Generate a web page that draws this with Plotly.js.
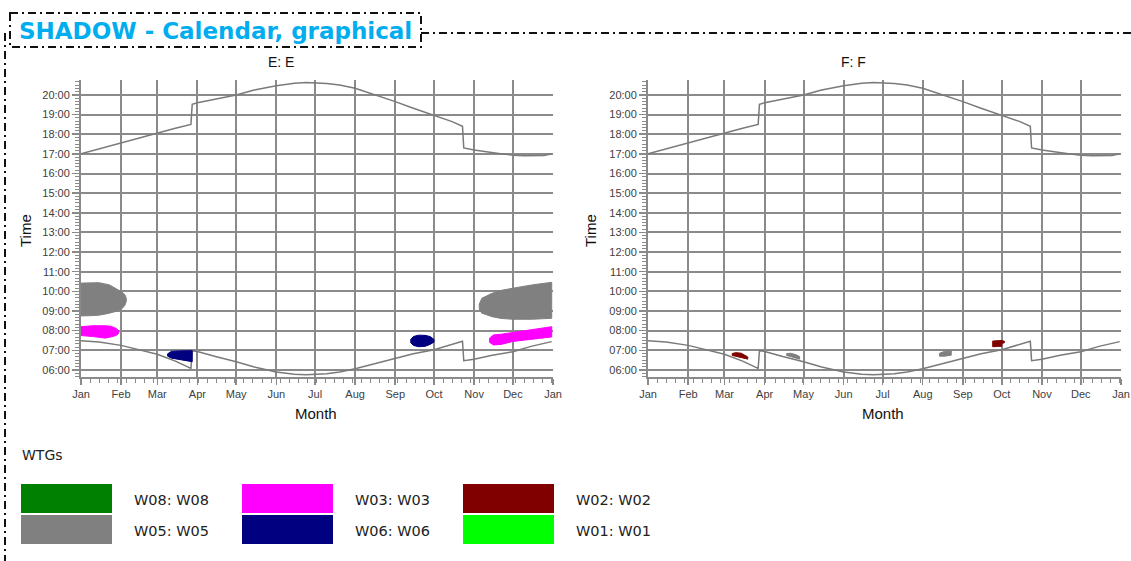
<!DOCTYPE html>
<html><head><meta charset="utf-8">
<script src="https://cdn.plot.ly/plotly-3.0.1.min.js"></script>
<style>html,body{margin:0;padding:0;background:#fff;}#chart{width:1131px;height:561px;}</style>
</head><body><div id="chart"></div>
<script>
// ---------- data ----------
const hourTickVals = [6,7,8,9,10,11,12,13,14,15,16,17,18,19,20];
const hourTickText = ['06:00','07:00','08:00','09:00','10:00','11:00','12:00','13:00','14:00','15:00','16:00','17:00','18:00','19:00','20:00'];
const panelTitles = ['E: E','F: F'];

// sunset (upper curve), hours
const sunsetDates = ['2021-01-01','2021-01-15','2021-02-01','2021-02-15','2021-03-01','2021-03-15','2021-03-27','2021-03-28','2021-04-01','2021-04-15','2021-05-01','2021-05-15','2021-06-01','2021-06-15','2021-06-24','2021-07-10','2021-07-20','2021-08-01','2021-08-15','2021-09-01','2021-09-15','2021-10-01','2021-10-15','2021-10-23','2021-10-24','2021-11-01','2021-11-10','2021-11-20','2021-12-01','2021-12-10','2021-12-25','2021-12-31'];
const sunsetHours = [17.0,17.25,17.56,17.82,18.08,18.3,18.5,19.52,19.6,19.8,20.0,20.25,20.47,20.6,20.63,20.58,20.5,20.34,20.05,19.66,19.32,18.97,18.64,18.4,17.3,17.2,17.1,17.02,16.93,16.9,16.92,17.0];

// sunrise (lower curve), hours
const sunriseDates = ['2021-01-01','2021-01-15','2021-02-01','2021-02-15','2021-03-01','2021-03-15','2021-03-27','2021-03-28','2021-04-01','2021-04-15','2021-05-01','2021-05-15','2021-06-01','2021-06-15','2021-06-24','2021-07-10','2021-07-20','2021-08-01','2021-08-15','2021-09-01','2021-09-15','2021-10-01','2021-10-15','2021-10-23','2021-10-24','2021-11-01','2021-11-15','2021-12-01','2021-12-15','2021-12-31'];
const sunriseHours = [7.49,7.42,7.25,7.02,6.8,6.45,6.08,6.98,6.94,6.68,6.42,6.15,5.9,5.78,5.75,5.8,5.9,6.06,6.3,6.59,6.82,7.03,7.28,7.46,6.47,6.54,6.75,6.93,7.2,7.44];

// shadow periods (start / end hour per date)
const eW05JanDates = ['2021-01-01','2021-01-08','2021-01-15','2021-01-23','2021-01-29','2021-02-02','2021-02-04','2021-02-05'];
const eW05JanStart = [8.75,8.76,8.79,8.89,9.0,9.14,9.3,9.5];
const eW05JanEnd   = [10.42,10.44,10.44,10.33,10.11,9.95,9.82,9.65];

const eW03JanDates = ['2021-01-01','2021-01-10','2021-01-20','2021-01-24','2021-01-28','2021-01-30'];
const eW03JanStart = [7.75,7.7,7.62,7.68,7.75,7.85];
const eW03JanEnd   = [8.2,8.25,8.25,8.22,8.12,8.0];

const eW06MarDates = ['2021-03-09','2021-03-12','2021-03-18','2021-03-24','2021-03-28'];
const eW06MarStart = [6.7,6.6,6.53,6.47,6.42];
const eW06MarEnd   = [6.82,6.95,6.97,6.98,6.98];

const eW06SepDates = ['2021-09-13','2021-09-15','2021-09-19','2021-09-24','2021-09-28','2021-10-01'];
const eW06SepStart = [7.38,7.25,7.18,7.2,7.3,7.42];
const eW06SepEnd   = [7.55,7.7,7.77,7.76,7.7,7.55];

const eW05NovDates = ['2021-11-05','2021-11-07','2021-11-15','2021-11-22','2021-12-01','2021-12-16','2021-12-31'];
const eW05NovStart = [9.1,8.89,8.71,8.62,8.58,8.58,8.63];
const eW05NovEnd   = [9.35,9.65,9.9,10.05,10.16,10.33,10.46];

const eW03NovDates = ['2021-11-13','2021-11-16','2021-11-22','2021-12-01','2021-12-15','2021-12-31'];
const eW03NovStart = [7.4,7.27,7.3,7.45,7.55,7.68];
const eW03NovEnd   = [7.62,7.78,7.82,7.9,8.02,8.2];

const fW02MarDates = ['2021-03-07','2021-03-10','2021-03-14','2021-03-17','2021-03-19'];
const fW02MarStart = [6.74,6.72,6.66,6.58,6.55];
const fW02MarEnd   = [6.84,6.88,6.85,6.76,6.66];

const fW05AprDates = ['2021-04-18','2021-04-21','2021-04-25','2021-04-28'];
const fW05AprStart = [6.74,6.68,6.6,6.55];
const fW05AprEnd   = [6.83,6.85,6.78,6.68];

const fW05AugDates = ['2021-08-14','2021-08-18','2021-08-23'];
const fW05AugStart = [6.7,6.7,6.75];
const fW05AugEnd   = [6.85,6.95,6.97];

const fW02SepDates = ['2021-09-24','2021-09-28','2021-10-01','2021-10-01','2021-10-03'];
const fW02SepStart = [7.18,7.2,7.2,7.35,7.38];
const fW02SepEnd   = [7.47,7.49,7.49,7.5,7.46];

// legend
const wtgNames  = ['W08: W08','W03: W03','W02: W02','W05: W05','W06: W06','W01: W01'];
const wtgColors = ['#008000','#ff00ff','#800000','#808080','#000080','#00ff00'];
const colorOf = {W08:'#008000',W05:'#808080',W03:'#ff00ff',W06:'#000080',W02:'#800000',W01:'#00ff00'};

// ---------- layout helpers ----------
const W = 1131, H = 561;
const px = x => x / W;
const py = y => 1 - y / H;
const GRID = '#8a8a8a';
const FONT = 'Liberation Sans, Arial, sans-serif';

function blob(name, dates, start, end, xa, ya) {
  const xs = dates.concat(dates.slice().reverse());
  const ys = end.concat(start.slice().reverse());
  xs.push(dates[0]); ys.push(end[0]);
  return {type:'scatter', mode:'lines', x:xs, y:ys, fill:'toself', fillcolor:colorOf[name],
    line:{color:colorOf[name], width:1}, xaxis:xa, yaxis:ya, hoverinfo:'skip', showlegend:false, name:name};
}
function curve(dates, hours, xa, ya) {
  return {type:'scatter', mode:'lines', x:dates, y:hours, line:{color:'#7a7a7a', width:1.5},
    xaxis:xa, yaxis:ya, hoverinfo:'skip', showlegend:false};
}

const traces = [
  curve(sunsetDates, sunsetHours, 'x', 'y'),
  curve(sunriseDates, sunriseHours, 'x', 'y'),
  curve(sunsetDates, sunsetHours, 'x2', 'y2'),
  curve(sunriseDates, sunriseHours, 'x2', 'y2'),
  blob('W05', eW05JanDates, eW05JanStart, eW05JanEnd, 'x', 'y'),
  blob('W03', eW03JanDates, eW03JanStart, eW03JanEnd, 'x', 'y'),
  blob('W06', eW06MarDates, eW06MarStart, eW06MarEnd, 'x', 'y'),
  blob('W06', eW06SepDates, eW06SepStart, eW06SepEnd, 'x', 'y'),
  blob('W05', eW05NovDates, eW05NovStart, eW05NovEnd, 'x', 'y'),
  blob('W03', eW03NovDates, eW03NovStart, eW03NovEnd, 'x', 'y'),
  blob('W02', fW02MarDates, fW02MarStart, fW02MarEnd, 'x2', 'y2'),
  blob('W05', fW05AprDates, fW05AprStart, fW05AprEnd, 'x2', 'y2'),
  blob('W05', fW05AugDates, fW05AugStart, fW05AugEnd, 'x2', 'y2'),
  blob('W02', fW02SepDates, fW02SepStart, fW02SepEnd, 'x2', 'y2')
];

function xAxis(d0, d1) {
  return {domain:[px(d0), px(d1)], type:'date', range:['2021-01-01','2022-01-01'],
    tickmode:'linear', tick0:'2021-01-01', dtick:'M1', tickformat:'%b',
    showgrid:true, gridcolor:GRID, gridwidth:2, showline:true, linecolor:GRID, linewidth:2,
    ticks:'outside', ticklen:6, tickwidth:1.5, tickcolor:GRID, zeroline:false,
    tickfont:{family:FONT, size:11, color:'#404040'},
    minor:{tickmode:'linear', tick0:'2021-01-01', dtick:7*86400000, ticks:'outside', ticklen:4, tickwidth:1, tickcolor:GRID, showgrid:false},
    fixedrange:true};
}
function yAxis(anchor) {
  return {domain:[py(377), py(80)], range:[5.64, 20.76], anchor:anchor,
    tickmode:'array', tickvals:hourTickVals, ticktext:hourTickText,
    showgrid:true, gridcolor:GRID, gridwidth:2, showline:true, linecolor:GRID, linewidth:2,
    ticks:'outside', ticklen:7, tickwidth:1.5, tickcolor:GRID, zeroline:false,
    tickfont:{family:FONT, size:11, color:'#404040'},
    minor:{tickmode:'linear', tick0:0, dtick:1/6, ticks:'outside', ticklen:4, tickwidth:1, tickcolor:GRID, showgrid:false},
    fixedrange:true};
}

const annotations = [
  {text:'SHADOW - Calendar, graphical', x:px(17), y:py(31), xref:'paper', yref:'paper', xanchor:'left', yanchor:'middle',
   showarrow:false, font:{family:'DejaVu Sans, Verdana, sans-serif', size:23, color:'#00aeef', weight:700}},
  {text:panelTitles[0], x:px(281), y:py(62), xref:'paper', yref:'paper', xanchor:'center', yanchor:'middle', showarrow:false, font:{family:FONT, size:14, color:'#111'}},
  {text:panelTitles[1], x:px(853), y:py(62), xref:'paper', yref:'paper', xanchor:'center', yanchor:'middle', showarrow:false, font:{family:FONT, size:14, color:'#111'}},
  {text:'Time', x:px(25), y:py(231), xref:'paper', yref:'paper', xanchor:'center', yanchor:'middle', textangle:-90, showarrow:false, font:{family:FONT, size:15, color:'#111'}},
  {text:'Time', x:px(590), y:py(231), xref:'paper', yref:'paper', xanchor:'center', yanchor:'middle', textangle:-90, showarrow:false, font:{family:FONT, size:15, color:'#111'}},
  {text:'Month', x:px(316), y:py(413), xref:'paper', yref:'paper', xanchor:'center', yanchor:'middle', showarrow:false, font:{family:FONT, size:15, color:'#111'}},
  {text:'Month', x:px(883), y:py(413), xref:'paper', yref:'paper', xanchor:'center', yanchor:'middle', showarrow:false, font:{family:FONT, size:15, color:'#111'}},
  {text:'WTGs', x:px(20), y:py(455), xref:'paper', yref:'paper', xanchor:'left', yanchor:'middle', showarrow:false, font:{family:'DejaVu Sans, Verdana, sans-serif', size:14, color:'#222'}}
];

const FRAME = {color:'#111', width:2, dash:'8px,4px,2px,4px'};
const shapes = [
  {type:'rect', xref:'paper', yref:'paper', x0:px(10), x1:px(421), y0:py(13), y1:py(47), line:FRAME},
  {type:'line', xref:'paper', yref:'paper', x0:px(421), x1:px(1131), y0:py(33), y1:py(33), line:FRAME},
  {type:'line', xref:'paper', yref:'paper', x0:px(5), x1:px(5), y0:py(33), y1:py(561), line:FRAME}
];

// custom legend: 3 columns x 2 rows
const colX = [21, 242, 463], rowY = [484, 515], boxW = 91, boxH = 29;
wtgNames.forEach((nm, i) => {
  const c = i % 3, r = Math.floor(i / 3);
  shapes.push({type:'rect', xref:'paper', yref:'paper', x0:px(colX[c]), x1:px(colX[c]+boxW), y0:py(rowY[r]+boxH), y1:py(rowY[r]),
    fillcolor:wtgColors[i], line:{width:0}});
  annotations.push({text:nm, x:px(colX[c]+111), y:py(rowY[r]+boxH/2+1), xref:'paper', yref:'paper', xanchor:'left', yanchor:'middle',
    showarrow:false, font:{family:'DejaVu Sans, Verdana, sans-serif', size:14.5, color:'#222'}});
});

const layout = {
  width:W, height:H, margin:{l:0, r:0, t:0, b:0}, paper_bgcolor:'#fff', plot_bgcolor:'#fff',
  showlegend:false,
  xaxis:xAxis(81, 553), yaxis:yAxis('x'),
  xaxis2:xAxis(648, 1121), yaxis2:yAxis('x2'),
  annotations:annotations, shapes:shapes
};
layout.xaxis.anchor = 'y';
layout.xaxis2.anchor = 'y2';

Plotly.newPlot('chart', traces, layout, {displayModeBar:false, staticPlot:true});
</script></body></html>
